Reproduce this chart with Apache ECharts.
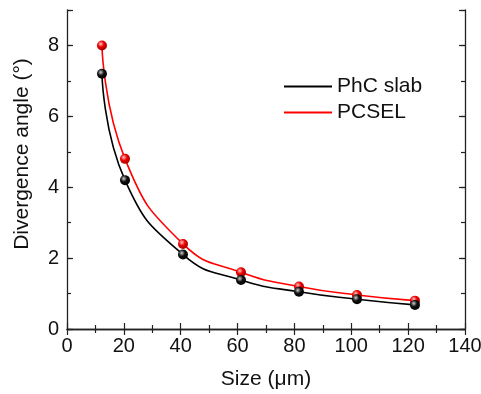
<!DOCTYPE html>
<html>
<head>
<meta charset="utf-8">
<script src="https://cdn.jsdelivr.net/npm/echarts@6/dist/echarts.min.js"></script>
<style>
  html, body { margin: 0; padding: 0; background: #fff; }
  #chart { width: 481px; height: 394px; }
</style>
</head>
<body>
<div id="chart"></div>
<script>
const sizes = [12.3, 20.4, 40.8, 61.2, 81.6, 102, 122.4];
const phcSlab = [7.2, 4.2, 2.1, 1.38, 1.05, 0.84, 0.68];
const pcsel = [8.0, 4.8, 2.4, 1.6, 1.2, 0.96, 0.8];

const FONT = 'Liberation Sans, Arial, sans-serif';
const AXIS_COLOR = '#222';
const TEXT_COLOR = '#111';

function ball(base, light, dark) {
  return {
    type: 'radial', x: 0.38, y: 0.35, r: 0.7,
    colorStops: [
      { offset: 0, color: light },
      { offset: 0.45, color: base },
      { offset: 1, color: dark },
    ],
  };
}

function pairs(xs, ys) {
  return xs.map((x, i) => [x, ys[i]]);
}

const axisLine = { show: true, lineStyle: { color: AXIS_COLOR, width: 1.3 } };

// y axes: one pair on each side, minor (interval 1) and major (interval 2)
function yPair(position, withLabels) {
  return [
    {
      type: 'value', position, min: 0, max: 9, interval: 1,
      axisLine, splitLine: { show: false },
      axisTick: { show: true, inside: true, length: 4, lineStyle: { color: AXIS_COLOR, width: 1.2 } },
      axisLabel: {
        show: withLabels, margin: 8, fontSize: 20, color: TEXT_COLOR, fontFamily: FONT,
        formatter: (v) => (v % 2 === 0 ? String(v) : ''),
      },
    },
    {
      type: 'value', position, min: 0, max: 9, interval: 2,
      axisLine: { show: false }, splitLine: { show: false },
      axisTick: { show: true, inside: true, length: 6, lineStyle: { color: AXIS_COLOR, width: 1.2 } },
      axisLabel: { show: false },
    },
  ];
}

function xAxis(position, withLabels) {
  return {
    type: 'value', position, min: 0, max: 140, interval: 20,
    axisLine, splitLine: { show: false },
    axisTick: { show: true, inside: true, length: 6, lineStyle: { color: AXIS_COLOR, width: 1.2 } },
    minorTick: { show: true, splitNumber: 2, length: 4, lineStyle: { color: AXIS_COLOR, width: 1.2 } },
    minorSplitLine: { show: false },
    axisLabel: { show: withLabels, margin: 7, fontSize: 20, color: TEXT_COLOR, fontFamily: FONT },
    name: withLabels ? 'Size (μm)' : '',
    nameLocation: 'middle', nameGap: 40,
    nameTextStyle: { fontSize: 21, color: TEXT_COLOR, fontFamily: FONT },
  };
}

const chart = echarts.init(document.getElementById('chart'));
chart.setOption({
  animation: false,
  backgroundColor: '#fff',
  grid: { left: 67, right: 16, top: 10, bottom: 65, containLabel: false, outerBoundsMode: 'none' },
  xAxis: [xAxis('bottom', true), xAxis('top', false)],
  yAxis: [...yPair('left', true), ...yPair('right', false)],
  legend: {
    left: 279, top: 71, orient: 'vertical', itemGap: 5,
    icon: 'rect', itemWidth: 48, itemHeight: 2,
    textStyle: { fontSize: 21, color: TEXT_COLOR, fontFamily: FONT },
    data: [
      { name: 'PhC slab', itemStyle: { color: '#000' } },
      { name: 'PCSEL', itemStyle: { color: '#ff0000' } },
    ],
  },
  graphic: [{
    type: 'text', x: 22, y: 154, rotation: Math.PI / 2,
    style: {
      text: 'Divergence angle (°)', fontSize: 21, fill: TEXT_COLOR, fontFamily: FONT,
      align: 'center', verticalAlign: 'middle',
    },
  }],
  series: [
    {
      name: 'PCSEL', type: 'line', data: pairs(sizes, pcsel),
      smooth: 0.5,
      lineStyle: { color: '#ff0000', width: 1.6 },
      symbol: 'circle', symbolSize: 10,
      itemStyle: { color: ball('#ee0000', '#ffc8c8', '#990000'), borderWidth: 0 },
    },
    {
      name: 'PhC slab', type: 'line', data: pairs(sizes, phcSlab),
      smooth: 0.5,
      lineStyle: { color: '#000', width: 1.6 },
      symbol: 'circle', symbolSize: 10,
      itemStyle: { color: ball('#111', '#cfcfcf', '#000'), borderWidth: 0 },
    },
  ],
});
</script>
</body>
</html>
